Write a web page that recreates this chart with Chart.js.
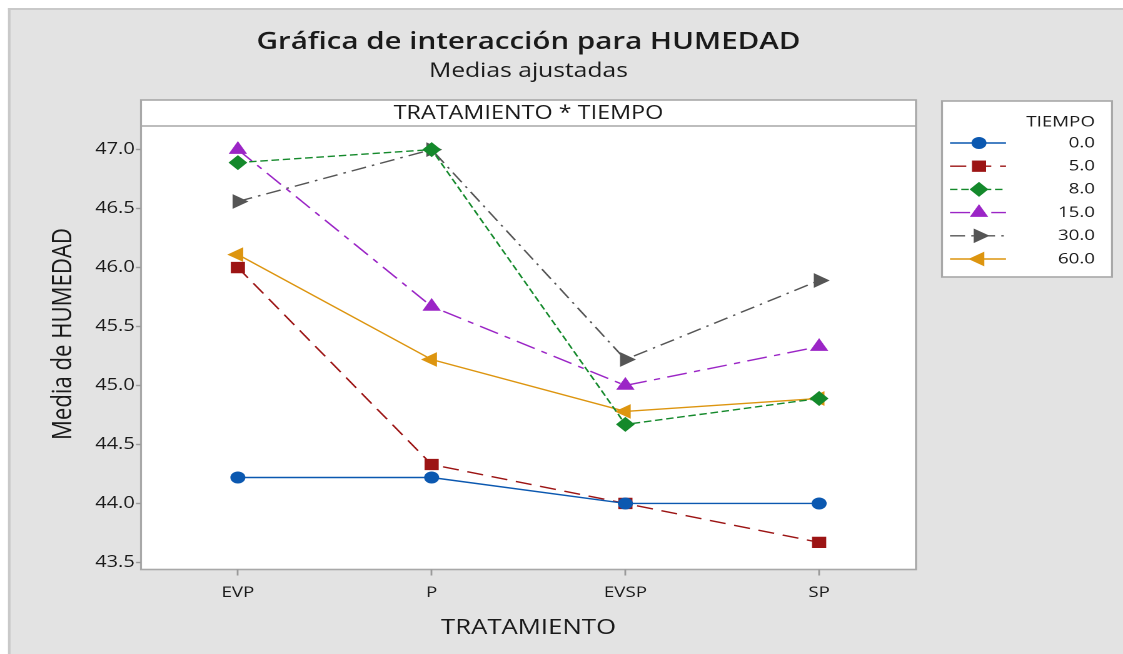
<!DOCTYPE html>
<html><head><meta charset="utf-8">
<script src="https://cdn.jsdelivr.net/npm/chart.js@4/dist/chart.umd.min.js"></script>
<style>
html,body{margin:0;padding:0;background:#fff;overflow:hidden}
</style></head><body>
<canvas id="c" width="898" height="654" style="width:1123px;height:654px;display:block"></canvas>
<script>
// ---- data ----
const categories = ['EVP', 'P', 'EVSP', 'SP'];
const seriesNames = ['0.0', '5.0', '8.0', '15.0', '30.0', '60.0'];
const t0  = [44.22, 44.22, 44.00, 44.00];
const t5  = [46.00, 44.33, 44.00, 43.67];
const t8  = [46.89, 47.00, 44.67, 44.89];
const t15 = [47.00, 45.67, 45.00, 45.33];
const t30 = [46.56, 47.00, 45.22, 45.89];
const t60 = [46.11, 45.22, 44.78, 44.89];
const yTicks = [43.5, 44.0, 44.5, 45.0, 45.5, 46.0, 46.5, 47.0];
const titleText = 'Gráfica de interacción para HUMEDAD';
const subtitleText = 'Medias ajustadas';
const panelText = 'TRATAMIENTO * TIEMPO';
const xTitle = 'TRATAMIENTO';
const yTitle = 'Media de HUMEDAD';
const legendTitle = 'TIEMPO';

// ---- layout (reference px -> internal canvas px, image is horizontally stretched) ----
const W = 898, H = 654;
const S = 1123 / W;
const X = x => x / S;
const FONT = "'Open Sans', 'Noto Sans', sans-serif";
const PL = X(141), PR = X(916), PT = 126, PB = 569.5, HDR = 100;

const styles = [
  {color: '#0b58b0', dash: [], ps: 'circle', r: 6, rot: 0},
  {color: '#9c1414', dash: [13, 7], ps: 'rect', r: 8, rot: 0},
  {color: '#14892b', dash: [6, 3], ps: 'rectRot', r: 7.5, rot: 0},
  {color: '#9b25c6', dash: [16, 6, 5, 6], ps: 'triangle', r: 8.5, rot: 0},
  {color: '#555555', dash: [12, 5, 2, 5], ps: 'triangle', r: 8.5, rot: 90},
  {color: '#dd950f', dash: [], ps: 'triangle', r: 8.5, rot: -90}
];
const values = [t0, t5, t8, t15, t30, t60];

const datasets = values.map((v, i) => ({
  label: seriesNames[i],
  data: v,
  borderColor: styles[i].color,
  backgroundColor: styles[i].color,
  borderWidth: 1.4,
  borderDash: styles[i].dash,
  pointStyle: styles[i].ps,
  pointRotation: styles[i].rot,
  pointRadius: styles[i].r,
  pointBorderWidth: 0,
  pointBackgroundColor: styles[i].color,
  tension: 0,
  fill: false
}));

function fitFont(ctx, text, weight, target) {
  ctx.font = weight + ' 100px ' + FONT;
  const w = ctx.measureText(text).width;
  return 100 * target / w;
}

const decor = {
  id: 'decor',
  beforeDraw(chart) {
    const ctx = chart.ctx;
    ctx.save();
    ctx.fillStyle = '#ffffff';
    ctx.fillRect(0, 0, W, H);
    ctx.fillStyle = '#e3e3e3';
    ctx.fillRect(X(8), 8, W, H);
    ctx.fillStyle = '#c9c9c9';
    ctx.fillRect(X(8), 8, W, 2);
    ctx.fillRect(X(8), 8, X(2.5), H);
    // plot panel
    ctx.fillStyle = '#ffffff';
    ctx.fillRect(PL, HDR, PR - PL, PB - HDR);
    // legend box
    const lx0 = X(942), lx1 = X(1112), ly0 = 101, ly1 = 277;
    ctx.fillRect(lx0, ly0, lx1 - lx0, ly1 - ly0);
    ctx.strokeStyle = '#a8a8a8';
    ctx.lineWidth = 1.6;
    ctx.strokeRect(lx0, ly0, lx1 - lx0, ly1 - ly0);
    ctx.strokeRect(PL, HDR, PR - PL, PB - HDR);
    ctx.beginPath();
    ctx.moveTo(PL, PT); ctx.lineTo(PR, PT);
    ctx.stroke();

    // titles
    ctx.fillStyle = '#1a1a1a';
    ctx.textAlign = 'center';
    ctx.textBaseline = 'alphabetic';
    const cx = (PL + PR) / 2;
    let fs = fitFont(ctx, titleText, '600', X(544));
    ctx.font = '600 ' + fs + 'px ' + FONT;
    ctx.fillText(titleText, cx, 49);
    fs = fitFont(ctx, subtitleText, '400', X(199));
    ctx.font = '400 ' + fs + 'px ' + FONT;
    ctx.fillText(subtitleText, cx, 77);
    fs = fitFont(ctx, panelText, '400', X(270));
    ctx.font = '400 ' + fs + 'px ' + FONT;
    ctx.fillText(panelText, cx, 119);
    fs = fitFont(ctx, xTitle, '400', X(175));
    ctx.font = '400 ' + fs + 'px ' + FONT;
    ctx.fillText(xTitle, cx, 634);
    fs = fitFont(ctx, yTitle, '400', 212);
    ctx.font = '400 ' + fs + 'px ' + FONT;
    ctx.save();
    ctx.translate(X(71), 334);
    ctx.rotate(-Math.PI / 2);
    ctx.fillText(yTitle, 0, 0);
    ctx.restore();

    // legend
    ctx.textAlign = 'right';
    ctx.textBaseline = 'middle';
    ctx.font = '400 15px ' + FONT;
    ctx.fillText(legendTitle, X(1095), 122);
    chart.data.datasets.forEach((ds, i) => {
      const y = 143 + i * 23.2;
      ctx.strokeStyle = ds.borderColor;
      ctx.lineWidth = 1.4;
      ctx.setLineDash(ds.borderDash);
      ctx.beginPath();
      ctx.moveTo(X(950), y); ctx.lineTo(X(1006), y);
      ctx.stroke();
      ctx.setLineDash([]);
      ctx.fillStyle = ds.borderColor;
      Chart.helpers.drawPoint(ctx, {pointStyle: ds.pointStyle, rotation: ds.pointRotation, radius: ds.pointRadius, borderWidth: 0}, X(979), y);
      ctx.fillStyle = '#1a1a1a';
      ctx.fillText(ds.label, X(1095), y);
    });
    ctx.restore();
  }
};

new Chart(document.getElementById('c'), {
  type: 'line',
  data: {labels: categories, datasets},
  options: {
    responsive: false,
    animation: false,
    devicePixelRatio: 2,
    layout: {padding: {left: 0, right: W - PR, top: PT, bottom: 0}},
    plugins: {legend: {display: false}, title: {display: false}, tooltip: {enabled: false}},
    events: [],
    scales: {
      x: {
        type: 'category',
        offset: true,
        grid: {display: true, drawOnChartArea: false, drawTicks: true, tickLength: 6, tickWidth: 1.4, color: '#9a9a9a', offset: false},
        border: {display: false},
        ticks: {color: '#1a1a1a', font: {family: FONT, size: 15}, padding: 8, maxRotation: 0, autoSkip: false},
        afterFit(s) { s.height = H - PB; }
      },
      y: {
        min: 43.44,
        max: 47.2,
        grid: {display: true, drawOnChartArea: false, drawTicks: true, tickLength: 4, tickWidth: 1.4, color: '#9a9a9a'},
        border: {display: false},
        ticks: {color: '#1a1a1a', font: {family: FONT, size: 16}, padding: 1, callback: v => Number(v).toFixed(1)},
        afterBuildTicks(s) { s.ticks = yTicks.map(v => ({value: v})); },
        afterFit(s) { s.width = PL; }
      }
    }
  },
  plugins: [decor]
});
</script>
</body></html>
